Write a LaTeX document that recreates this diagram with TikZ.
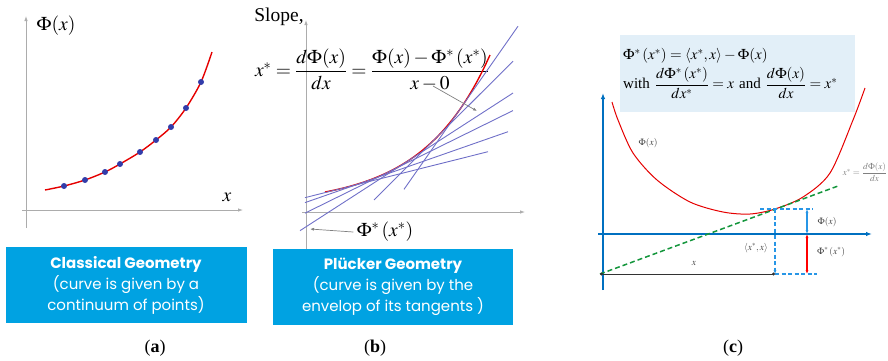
\documentclass[tikz,border=0pt]{standalone}
\usepackage{amsmath}
\usepackage{mathptmx}
\usepackage{fontspec}
\setmainfont{Liberation Serif}
\newfontfamily\boxfont{Poppins}
\usetikzlibrary{arrows.meta,positioning}

\definecolor{capblue}{RGB}{0,162,226}
\definecolor{tanblue}{RGB}{112,112,200}
\definecolor{axblue}{RGB}{0,112,192}
\definecolor{dashblue}{RGB}{40,150,230}
\definecolor{eqfill}{RGB}{226,239,248}
\definecolor{dotblue}{RGB}{50,60,170}
\definecolor{tgreen}{RGB}{20,150,60}

\begin{document}
\begin{tikzpicture}[x=1pt, y=-1pt,
  gaxis/.style={draw=gray!65, line width=0.8pt, -{Latex[length=5pt,width=3.5pt]}},
  baxis/.style={draw=axblue, line width=1.2pt, -{Latex[length=6pt,width=4.5pt]}},
  curve/.style={draw=red!90!black, line width=1.4pt},
  tangent/.style={draw=tanblue, line width=0.9pt},
  pointer/.style={draw=gray, line width=0.7pt, -{Latex[length=4pt,width=3pt]}},
  guide/.style={draw=dashblue, line width=1.1pt, dash pattern=on 4pt off 2.5pt},
  big/.style={font=\fontsize{19.5}{22}\selectfont},
  small/.style={font=\fontsize{9.5}{11}\selectfont, text=black!75},
  capbox/.style={fill=capblue, text=white, align=center, inner sep=0pt,
                 minimum width=241, minimum height=76,
                 font=\boxfont\fontsize{15}{21}\selectfont},
  tag/.style={font=\fontsize{18}{20}\selectfont}
]
\useasboundingbox (0,0) rectangle (888,360);

%% (a) classical geometry: curve as a set of points
\draw[gaxis] (26,228) -- (26,16);
\draw[gaxis] (22,210) -- (243,210);
\node[big] (phia) at (56,26) {$\Phi(x)$};
\node[big] (xa) at (227,197) {$x$};
\draw[curve] plot[smooth] coordinates {(45,190) (64,186) (85,180) (105,172) (120,164)
  (140,152) (156,140) (171,127) (186,108) (201,82) (212,52)};
\foreach \px/\py in {64/186, 85/180, 105/172, 120/164, 140/152, 156/140, 171/127, 186/108, 201/82}
  \fill[dotblue] (\px,\py) circle[radius=3pt];
\node[capbox] (boxa) at (126,285)
  {{\bfseries Classical Geometry}\\(curve is given by a\\continuum of points)};
\node[tag] (taga) at (155,348) {(\textbf{a})};

%% (b) Pluecker geometry: curve as envelope of tangents
\draw[gaxis] (306,250) -- (306,20);
\draw[gaxis] (302,212) -- (525,212);
\node[big] (slope) at (279,17) {Slope,};
\node[big] (slopeeq) at (372,70)
  {$x^* = \dfrac{d\Phi(x)}{dx} = \dfrac{\Phi(x)-\Phi^*\left(x^*\right)}{x-0}$};
\draw[curve] plot[domain=19:184, samples=40] ({306+\x},{212-(7.4+9.47*exp(0.015*\x))});
\foreach \ut/\ua/\ub in {38/-1/182, 60/-1/202, 83/-1/207, 101/-6/207, 130/68/207, 154/98/212} {
  \pgfmathsetmacro{\hs}{7.4+9.47*exp(0.015*\ut)}
  \pgfmathsetmacro{\sl}{0.14205*exp(0.015*\ut)}
  \draw[tangent] ({306+\ua},{212-(\hs+\sl*(\ua-\ut))}) -- ({306+\ub},{212-(\hs+\sl*(\ub-\ut))});
}
\node[big] (phistarb) at (385,232) {$\Phi^*\left(x^*\right)$};
\coordinate (icpt) at (310,229);
\coordinate (eqfoot) at (433,86);
\coordinate (touch) at (477,111);
\draw[pointer] (phistarb.west) -- (icpt);
\draw[pointer] (eqfoot) -- (touch);
\node[capbox, minimum width=240] (boxb) at (393,287)
  {{\bfseries Plücker Geometry}\\(curve is given by the\\envelop of its tangents )};
\node[tag] (tagb) at (375,348) {(\textbf{b})};

%% (c) Legendre transform
\node[anchor=north west, fill=eqfill, minimum height=77, text width=229, align=left,
      inner xsep=3pt, inner ysep=0pt, font=\fontsize{15}{17}\selectfont] (dualeq) at (620,35)
  {$\Phi^*\left(x^*\right) = \left\langle x^*,x\right\rangle - \Phi(x)$\\[3pt]
   with $\dfrac{d\Phi^*\left(x^*\right)}{dx^*}=x$ and $\dfrac{d\Phi(x)}{dx}=x^*$};
\draw[baxis] (603,290) -- (603,93);
\draw[baxis] (598,234) -- (872,234);
\draw[curve, line width=1pt] plot[smooth] coordinates {(612,102) (618,120) (633,153) (657,180)
  (690,202) (723,212) (750,214) (775,209) (803,197) (830,173) (853,120) (865,88)};
\coordinate (tc) at (775,209);
\coordinate (yc) at (600,274);
\coordinate (xc) at (775,274);
\coordinate (gc) at (838,186);
\draw[tgreen, line width=1.5pt, dash pattern=on 5pt off 3pt] (yc) -- (gc);
\draw[guide] (760,209) -- (813,209);
\draw[guide] (xc) -- (817,274);
\draw[guide, -{Latex[length=4pt,width=3pt]}] (tc) -- (xc);
\draw[black!80, line width=1pt, {Circle[length=3pt]}-{Circle[length=3pt]}] (yc) -- (xc);
\draw[dashblue, line width=1.2pt, {Latex[length=4pt,width=3pt]}-{Latex[length=4pt,width=3pt]}] (807,209) -- (807,234);
\draw[red, line width=1.2pt, {Latex[length=4pt,width=3pt]}-{Latex[length=4pt,width=3pt]}] (807,234) -- (807,274);
\node[small] (phic) at (648,143) {$\Phi(x)$};
\node[small] (phix) at (827,222) {$\Phi(x)$};
\node[small] (phistarc) at (831,252) {$\Phi^*\left(x^*\right)$};
\node[small] (pair) at (756,248) {$\left\langle x^*,x\right\rangle$};
\node[small] (xlen) at (694,263) {$x$};
\node[small, font=\fontsize{9}{11}\selectfont, text=gray] (slopec) at (865,172)
  {$x^* = \dfrac{d\Phi(x)}{dx}$};
\node[tag] (tagc) at (733,348) {(\textbf{c})};
\end{tikzpicture}
\end{document}
